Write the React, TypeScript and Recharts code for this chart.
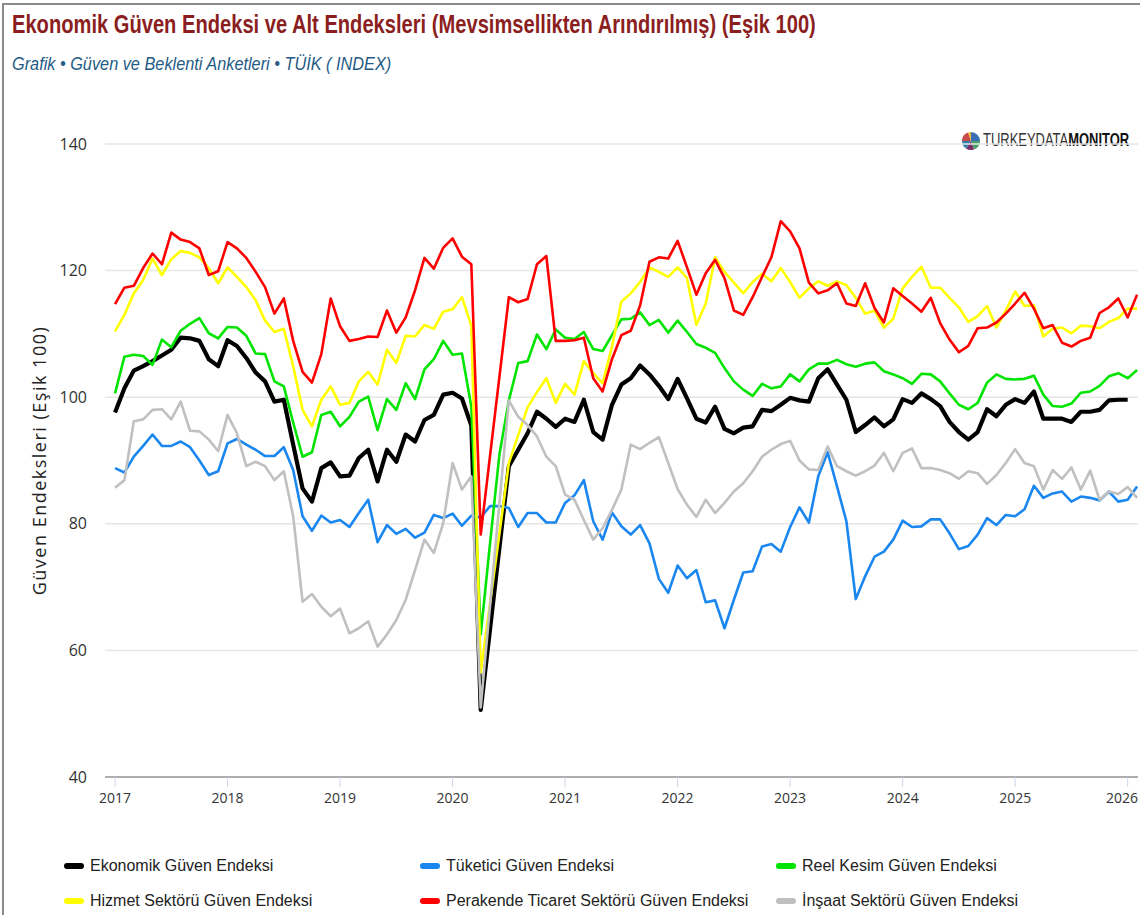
import { LineChart, Line, XAxis, YAxis, CartesianGrid } from 'recharts';

// month index 0 = 2017-01
const YEARS = ['2017', '2018', '2019', '2020', '2021', '2022', '2023', '2024', '2025', '2026'];
const Y_TICKS = [40, 60, 80, 100, 120, 140];

const ekonomik = [
  97.6, 101.4, 104.2, 104.9, 105.7, 106.6, 107.5, 109.4, 109.3, 108.9, 106.0, 104.9,
  109.0, 108.1, 106.2, 103.9, 102.5, 99.3, 99.6, 92.5, 85.6, 83.5, 88.8, 89.7,
  87.5, 87.6, 90.4, 91.7, 86.7, 91.7, 89.8, 94.1, 93.0, 96.4, 97.2, 100.4,
  100.7, 99.8, 95.5, 50.6, 63.4, 76.3, 89.1, 91.7, 94.3, 97.7, 96.6, 95.3,
  96.6, 96.1, 99.6, 94.5, 93.3, 98.8, 102.0, 103.0, 105.0, 103.6, 101.8, 99.7,
  102.9, 99.8, 96.6, 96.0, 98.5, 95.0, 94.3, 95.2, 95.4, 98.0, 97.8, 98.8,
  99.9, 99.5, 99.3, 103.0, 104.4, 102.0, 99.6, 94.5, 95.6, 96.8, 95.4, 96.5,
  99.7, 99.1, 100.6, 99.7, 98.6, 96.1, 94.5, 93.3, 94.5, 98.1, 97.0, 98.8,
  99.7, 99.1, 100.9, 96.6, 96.6, 96.6, 96.1, 97.7, 97.7, 98.0, 99.5, 99.6,
  99.6, null,
];

const tuketici = [
  88.8, 88.1, 90.6, 92.3, 94.1, 92.3, 92.3, 93.0, 92.1, 90.0, 87.7, 88.3,
  92.7, 93.4, 92.5, 91.7, 90.7, 90.7, 92.1, 88.5, 81.2, 78.9, 81.3, 80.2,
  80.6, 79.5, 81.7, 83.8, 77.1, 79.8, 78.4, 79.2, 77.8, 78.6, 81.4, 80.9,
  81.6, 79.7, 81.3, 81.0, 82.8, 82.8, 82.5, 79.5, 81.7, 81.7, 80.2, 80.2,
  83.3, 84.5, 86.9, 80.4, 77.5, 81.8, 79.6, 78.3, 79.8, 76.9, 71.3, 69.1,
  73.4, 71.4, 72.7, 67.6, 67.9, 63.5, 68.0, 72.3, 72.5, 76.4, 76.8, 75.6,
  79.5, 82.6, 80.2, 87.5, 91.3, 85.9, 80.4, 68.1, 71.7, 74.8, 75.6, 77.5,
  80.5, 79.5, 79.6, 80.7, 80.7, 78.5, 76.0, 76.5, 78.3, 80.9, 79.8, 81.4,
  81.2, 82.3, 86.0, 84.1, 84.8, 85.1, 83.5, 84.3, 84.1, 83.7, 85.1, 83.5,
  83.8, 85.9,
];

const reelKesim = [
  100.6, 106.4, 106.7, 106.5, 105.1, 109.1, 107.9, 110.5, 111.6, 112.5, 110.1, 109.3,
  111.1, 111.0, 109.7, 106.9, 106.8, 102.5, 101.7, 96.0, 90.6, 91.3, 97.2, 97.7,
  95.4, 96.9, 99.3, 100.1, 94.8, 99.7, 98.0, 102.2, 99.7, 104.4, 106.0, 108.9,
  106.7, 106.9, 98.5, 62.5, 77.0, 91.0, 99.5, 105.4, 105.7, 109.9, 107.6, 110.7,
  109.4, 109.2, 110.3, 107.6, 107.3, 109.8, 112.3, 112.4, 113.4, 111.4, 112.2, 110.2,
  112.1, 110.3, 108.4, 107.8, 107.0, 104.6, 102.5, 101.2, 100.2, 102.1, 101.4, 101.7,
  103.6, 102.5, 104.4, 105.3, 105.3, 105.9, 105.2, 104.8, 105.3, 105.5, 104.1, 103.6,
  103.0, 102.1, 103.7, 103.6, 102.5, 100.6, 98.8, 98.1, 99.1, 102.3, 103.6, 102.9,
  102.8, 102.9, 103.4, 100.4, 98.6, 98.5, 99.0, 100.7, 100.9, 101.8, 103.3, 103.8,
  103.0, 104.3,
];

const hizmet = [
  110.4, 113.0, 116.4, 118.5, 121.9, 119.3, 121.8, 123.1, 122.8, 122.1, 120.4, 118.0,
  120.5, 119.0, 117.4, 115.3, 112.1, 110.3, 110.8, 104.9, 98.0, 95.4, 99.6, 101.7,
  98.8, 99.1, 102.5, 104.0, 102.0, 107.5, 105.4, 109.7, 109.6, 111.4, 110.8, 113.5,
  113.9, 115.8, 111.3, 56.5, 67.5, 78.5, 89.6, 94.0, 98.4, 100.8, 103.0, 99.1,
  102.1, 100.4, 105.7, 103.8, 102.2, 108.0, 115.1, 116.4, 118.2, 120.5, 119.8, 119.0,
  120.5, 118.8, 111.4, 114.8, 122.1, 119.8, 118.1, 116.4, 118.2, 119.5, 118.3, 120.4,
  118.2, 115.7, 117.2, 118.3, 117.6, 118.3, 117.7, 115.7, 113.2, 113.7, 111.0, 112.4,
  117.2, 119.0, 120.6, 117.3, 117.3, 115.7, 114.2, 111.9, 112.8, 114.4, 111.0, 113.7,
  116.7, 114.4, 114.5, 109.6, 110.8, 111.0, 110.1, 111.3, 111.2, 110.9, 111.9, 112.5,
  114.0, 114.0,
];

const perakende = [
  114.7, 117.3, 117.6, 120.4, 122.7, 121.0, 126.0, 124.9, 124.5, 123.5, 119.3, 119.9,
  124.5, 123.5, 122.0, 119.8, 117.4, 113.2, 115.6, 108.9, 104.0, 102.3, 106.8, 115.6,
  111.2, 108.9, 109.2, 109.6, 109.5, 113.7, 110.2, 112.6, 116.9, 122.0, 120.3, 123.6,
  125.1, 122.2, 121.0, 78.3, 90.8, 103.3, 115.8, 115.0, 115.5, 121.0, 122.3, 108.9,
  108.9, 109.0, 109.4, 103.0, 100.9, 106.0, 109.8, 110.5, 114.5, 121.4, 122.1, 121.9,
  124.7, 120.5, 116.2, 119.6, 121.7, 118.8, 113.7, 113.0, 115.8, 119.0, 122.1, 127.8,
  126.2, 123.5, 118.1, 116.4, 116.9, 118.0, 114.8, 114.4, 118.0, 114.1, 111.8, 117.2,
  116.0, 114.8, 113.5, 115.7, 111.7, 109.1, 107.1, 108.1, 110.9, 111.0, 111.8, 113.2,
  114.8, 116.5, 114.0, 110.9, 111.4, 108.6, 108.0, 108.9, 109.4, 113.3, 114.2, 115.6,
  112.6, 116.2,
];

const insaat = [
  85.7, 86.9, 96.2, 96.5, 98.0, 98.1, 96.5, 99.3, 94.7, 94.6, 93.3, 91.5,
  97.2, 94.3, 89.1, 89.8, 89.1, 86.9, 88.3, 81.2, 67.7, 68.9, 66.9, 65.4,
  66.6, 62.7, 63.5, 64.6, 60.6, 62.5, 64.8, 68.0, 72.7, 77.5, 75.4, 80.1,
  89.6, 85.4, 87.5, 51.0, 67.2, 83.4, 99.5, 96.9, 95.6, 93.8, 90.6, 89.1,
  84.6, 83.8, 80.6, 77.5, 79.3, 82.2, 85.4, 92.5, 91.8, 92.8, 93.7, 89.6,
  85.5, 83.0, 81.1, 83.8, 81.7, 83.3, 85.1, 86.4, 88.3, 90.6, 91.7, 92.6,
  93.1, 90.0, 88.6, 88.5, 92.2, 89.1, 88.3, 87.6, 88.3, 89.2, 91.2, 88.3,
  91.2, 91.9, 88.8, 88.8, 88.5, 88.0, 87.1, 88.3, 88.0, 86.3, 87.7, 89.6,
  91.8, 89.6, 89.1, 85.4, 88.5, 87.1, 88.9, 85.4, 88.4, 83.8, 85.1, 84.7,
  85.8, 84.1,
];

const SERIES = [
  { key: 'ekonomik', name: 'Ekonomik Güven Endeksi', color: '#000000', width: 4.2 },
  { key: 'tuketici', name: 'Tüketici Güven Endeksi', color: '#1a87f0', width: 2.6 },
  { key: 'reelKesim', name: 'Reel Kesim Güven Endeksi', color: '#00e400', width: 2.6 },
  { key: 'hizmet', name: 'Hizmet Sektörü Güven Endeksi', color: '#ffff00', width: 2.6 },
  { key: 'perakende', name: 'Perakende Ticaret Sektörü Güven Endeksi', color: '#ff0000', width: 2.6 },
  { key: 'insaat', name: 'İnşaat Sektörü Güven Endeksi', color: '#c0c0c0', width: 2.6 },
];

const data = tuketici.map((_, i) => ({
  i,
  ekonomik: ekonomik[i],
  tuketici: tuketici[i],
  reelKesim: reelKesim[i],
  hizmet: hizmet[i],
  perakende: perakende[i],
  insaat: insaat[i],
}));

const xTicks = YEARS.map((_, k) => k * 12);
const sans = '"Liberation Sans", Arial, sans-serif';
const open = '"Open Sans", sans-serif';

// the reference text is horizontally squeezed, so stretch Liberation Sans down
function Squeezed({ scale, style, children }: { scale: number; style: React.CSSProperties; children: React.ReactNode }) {
  return (
    <span style={{ display: 'inline-block', whiteSpace: 'nowrap', transform: `scaleX(${scale})`, transformOrigin: 'left center', ...style }}>
      {children}
    </span>
  );
}

function XTick({ x, y, payload }: any) {
  const px = Math.min(x, 1122);
  return (
    <text x={px} y={y + 14} textAnchor="middle" fill="#333" fontSize={14} fontFamily={open}>
      {YEARS[Math.round(payload.value / 12)]}
    </text>
  );
}

function Logo() {
  return (
    <div style={{ position: 'absolute', left: 962, top: 130, display: 'flex', alignItems: 'center' }}>
      <svg width={18} height={20} viewBox="-9 -10 18 20">
        <path d="M0 0 L0 -9 A9 9 0 0 1 9 0 Z" fill="#3a6fb5" />
        <path d="M0 0 L9 0 A9 9 0 0 1 3 8.5 Z" fill="#4aa06a" />
        <path d="M0 0 L3 8.5 A9 9 0 0 1 -5 7.5 Z" fill="#7b2d6a" />
        <path d="M0 0 L-5 7.5 A9 9 0 0 1 -9 0 Z" fill="#2b7fa8" />
        <path d="M0 0 L-9 0 A9 9 0 0 1 -3 -8.5 Z" fill="#c94a4a" />
        <path d="M0 0 L-3 -8.5 A9 9 0 0 1 0 -9 Z" fill="#e8b92f" />
      </svg>
      <Squeezed scale={0.72} style={{ fontFamily: sans, fontSize: 18, color: '#333', marginLeft: 3 }}>
        TURKEYDATA<b style={{ color: '#111' }}>MONITOR</b>
      </Squeezed>
    </div>
  );
}

export default function App() {
  return (
    <div style={{ position: 'relative', width: 1140, height: 915, background: '#fff', overflow: 'hidden' }}>
      <style>{'body{margin:0}'}</style>
      <div style={{ position: 'absolute', left: 2, top: 3, width: 1138, height: 912, borderLeft: '2px solid #8a8a8a', borderTop: '2px solid #8a8a8a' }} />
      <div style={{ position: 'absolute', left: 12, top: 10 }}>
        <Squeezed scale={0.805} style={{ fontFamily: sans, fontWeight: 'bold', fontSize: 25, color: '#8b1e1e' }}>
          Ekonomik Güven Endeksi ve Alt Endeksleri (Mevsimsellikten Arındırılmış) (Eşik 100)
        </Squeezed>
      </div>
      <div style={{ position: 'absolute', left: 12, top: 54 }}>
        <Squeezed scale={0.905} style={{ fontFamily: sans, fontStyle: 'italic', fontSize: 18, color: '#245b85' }}>
          Grafik • Güven ve Beklenti Anketleri • TÜİK ( INDEX)
        </Squeezed>
      </div>
      <Logo />
      <div style={{ position: 'absolute', left: 0, top: 0 }}>
        <LineChart width={1140} height={840} data={data} margin={{ top: 144, right: 2, bottom: 23, left: 0 }}>
          <CartesianGrid vertical={false} stroke="#e6e6e6" strokeWidth={1.5} />
          <XAxis
            dataKey="i"
            type="number"
            domain={[-1.07, 109.1]}
            allowDataOverflow
            ticks={xTicks}
            interval={0}
            height={40}
            axisLine={{ stroke: '#999', strokeWidth: 1.5 }}
            tickLine={{ stroke: '#ccd6eb' }}
            tickSize={10}
            tick={<XTick />}
          />
          <YAxis
            domain={[40, 140]}
            ticks={Y_TICKS}
            interval={0}
            width={105}
            axisLine={false}
            tickLine={false}
            tickMargin={12}
            tick={{ fill: '#333', fontSize: 16, fontFamily: open }}
            label={{
              value: 'Güven Endeksleri (Eşik 100)',
              angle: -90,
              position: 'insideLeft',
              offset: 40,
              style: { textAnchor: 'middle', fill: '#222', fontSize: 18, letterSpacing: 1.5, fontFamily: open },
            }}
          />
          {SERIES.map((s) => (
            <Line
              key={s.key}
              type="linear"
              dataKey={s.key}
              name={s.name}
              stroke={s.color}
              strokeWidth={s.width}
              dot={false}
              activeDot={false}
              isAnimationActive={false}
              strokeLinejoin="round"
            />
          ))}
        </LineChart>
      </div>
      <div style={{ position: 'absolute', left: 64, top: 855, width: 1070, display: 'grid', gridTemplateColumns: '356px 356px 356px', rowGap: 13 }}>
        {SERIES.map((s) => (
          <div key={s.key} style={{ display: 'flex', alignItems: 'center', height: 22 }}>
            <span style={{ display: 'inline-block', width: 20, height: 6, borderRadius: 3, background: s.color, marginRight: 6 }} />
            <span style={{ fontFamily: sans, fontSize: 16, color: '#222', whiteSpace: 'nowrap' }}>{s.name}</span>
          </div>
        ))}
      </div>
    </div>
  );
}
